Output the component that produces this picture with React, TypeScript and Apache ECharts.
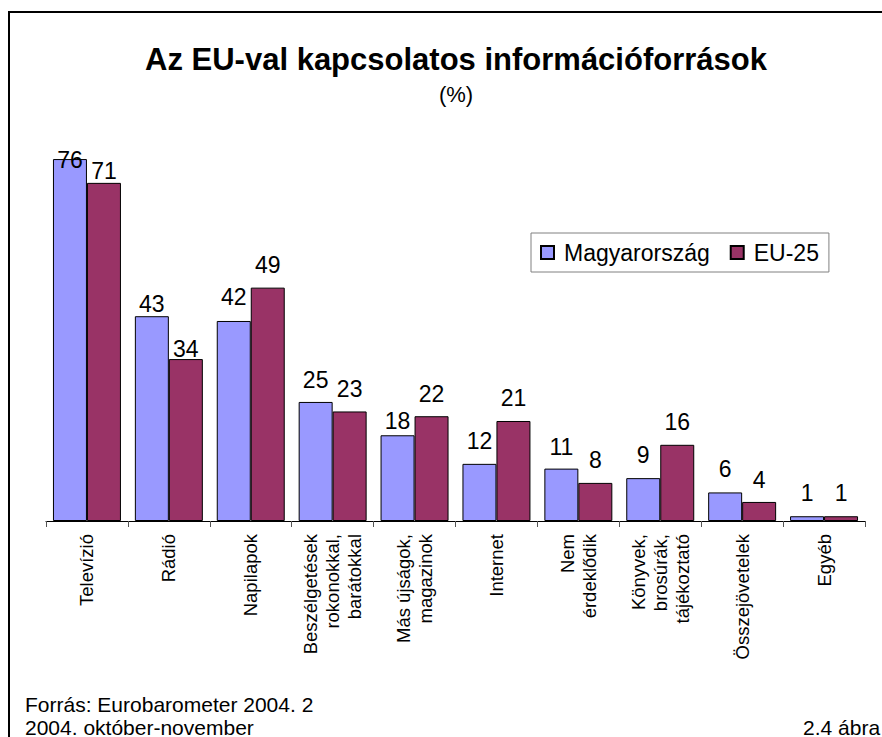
import React, { useEffect, useRef } from "react";
import * as echarts from "echarts";

const categories = [
  "Televízió",
  "Rádió",
  "Napilapok",
  "Beszélgetések\nrokonokkal,\nbarátokkal",
  "Más újságok,\nmagazinok",
  "Internet",
  "Nem\nérdeklődik",
  "Könyvek,\nbrosúrák,\ntájékoztató",
  "Összejövetelek",
  "Egyéb",
];
const seriesNames = ["Magyarország", "EU-25"];
const huValues = [76, 43, 42, 25, 18, 12, 11, 9, 6, 1];
const euValues = [71, 34, 49, 23, 22, 21, 8, 16, 4, 1];

// gap (px) between label baseline and bar top, as placed in the original
const huLabelGap = [-9, 4, 16, 14, 6, 15, 14, 15, 15, 15];
const euLabelGap = [4, 2, 15, 14, 14, 15, 15, 15, 14, 15];

const titleText = "Az EU-val kapcsolatos információforrások";
const subtitleText = "(%)";
const sourceLines = ["Forrás: Eurobarometer 2004. 2", "2004. október-november"];
const figureText = "2.4 ábra";

const FONT = "'Liberation Sans', Arial, sans-serif";

export default function App() {
  const ref = useRef<HTMLDivElement>(null);
  useEffect(() => {
    if (!ref.current) return;
    const chart = echarts.init(ref.current, undefined, { renderer: "svg" });
    const mk = (vals: number[], gaps: number[]) =>
      vals.map((v, i) => ({ value: v, label: { distance: gaps[i] - 3.5 } }));
    const labelCfg = {
      show: true,
      position: "top",
      color: "#000",
      fontSize: 23,
      fontFamily: FONT,
    };
    chart.setOption({
      animation: false,
      backgroundColor: "#fff",
      textStyle: { fontFamily: FONT },
      grid: { left: 46, top: 140, width: 819, height: 381, containLabel: false },
      legend: {
        data: seriesNames,
        icon: "rect",
        left: 531,
        top: 233,
        orient: "horizontal",
        itemWidth: 13,
        itemHeight: 13,
        itemGap: 20,
        padding: [8, 10, 8, 9],
        borderColor: "#808080",
        borderWidth: 1,
        backgroundColor: "#fff",
        textStyle: { fontSize: 23, color: "#000", fontFamily: FONT, padding: [0, 0, 0, 5] },
      },
      xAxis: {
        type: "category",
        data: categories,
        boundaryGap: true,
        axisLine: { show: true, lineStyle: { color: "#000", width: 1 } },
        axisTick: { show: true, length: 6, lineStyle: { color: "#555" } },
        axisLabel: {
          interval: 0,
          rotate: 90,
          margin: 13,
          fontSize: 18.5,
          lineHeight: 22,
          color: "#000",
          fontFamily: FONT,
        },
      },
      yAxis: {
        type: "value",
        min: 0,
        max: 80,
        show: false,
        splitLine: { show: false },
      },
      series: [
        {
          name: seriesNames[0],
          type: "bar",
          data: mk(huValues, huLabelGap),
          barGap: "0%",
          barCategoryGap: "17%",
          itemStyle: { color: "#9999FF", borderColor: "#000", borderWidth: 1 },
          label: labelCfg,
        },
        {
          name: seriesNames[1],
          type: "bar",
          data: mk(euValues, euLabelGap),
          barGap: "0%",
          barCategoryGap: "17%",
          itemStyle: { color: "#993366", borderColor: "#000", borderWidth: 1 },
          label: labelCfg,
        },
      ],
      graphic: [
        {
          type: "rect",
          shape: { x: 9, y: 12, width: 1000, height: 1000 },
          style: { fill: "none", stroke: "#000", lineWidth: 2 },
          silent: true,
        },
        {
          type: "text",
          x: 456,
          y: 59,
          style: {
            text: titleText,
            font: `bold 31px ${FONT}`,
            fill: "#000",
            align: "center",
            verticalAlign: "middle",
          },
        },
        {
          type: "text",
          x: 456,
          y: 94,
          style: {
            text: subtitleText,
            font: `22px ${FONT}`,
            fill: "#000",
            align: "center",
            verticalAlign: "middle",
          },
        },
        {
          type: "text",
          x: 25,
          y: 704,
          style: {
            text: sourceLines[0],
            font: `21px ${FONT}`,
            fill: "#000",
            align: "left",
            verticalAlign: "middle",
          },
        },
        {
          type: "text",
          x: 25,
          y: 727,
          style: {
            text: sourceLines[1],
            font: `21px ${FONT}`,
            fill: "#000",
            align: "left",
            verticalAlign: "middle",
          },
        },
        {
          type: "text",
          x: 803,
          y: 727,
          style: {
            text: figureText,
            font: `21px ${FONT}`,
            fill: "#000",
            align: "left",
            verticalAlign: "middle",
          },
        },
      ],
    });
    return () => chart.dispose();
  }, []);
  return (
    <div
      ref={ref}
      style={{ position: "fixed", left: 0, top: 0, width: 882, height: 737 }}
    />
  );
}
